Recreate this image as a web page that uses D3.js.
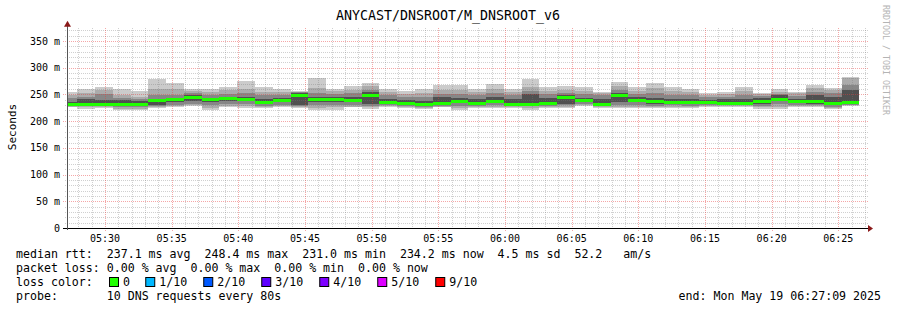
<!DOCTYPE html>
<html lang="en">
<head>
<meta charset="UTF-8">
<title>ANYCAST/DNSROOT/M_DNSROOT_v6</title>
<script src="https://d3js.org/d3.v7.min.js"></script>
<style>
  body { margin: 0; background: #fff; }
  text { font-family: "DejaVu Sans Mono", monospace; fill: #000; }
</style>
</head>
<body>
<div id="chart"></div>
<script>
const chartTitle = "ANYCAST/DNSROOT/M_DNSROOT_v6";
const startTime = Date.UTC(2025, 4, 19, 5, 27, 9);
const endTime = Date.UTC(2025, 4, 19, 6, 27, 9);
const firstStepEnd = Date.UTC(2025, 4, 19, 5, 27, 55);
const stepSec = 80;

// smoke: sorted ping rtts per 80s step (ms), outer pair first
const pingMax = [254,260,264,260,256,279,271,261,261,264,275,264,261,256,280,261,266,272,261,256,261,268,268,261,270,261,279,264,266,263,255,273,263,272,264,261,253,255,263,253,261,255,268,262,283];
const ping9   = [249,252,258,249,246,261,261,256,254,258,260,254,254,255,262,256,259,266,255,250,252,258,258,254,260,254,264,256,258,256,252,266,256,262,256,254,249,250,256,250,255,252,262,258,281];
const ping8   = [243,245,250,243,242,249,249,252,248,250,252,248,248,254,252,250,252,258,248,245,245,250,250,248,252,248,256,250,252,250,248,258,250,252,249,248,245,246,249,247,250,247,255,252,268];
const ping7   = [236,241,240,239,238,242,244,248,244,246,245,241,243,253,245,245,245,254,241,240,238,245,244,241,245,241,250,244,248,244,242,253,245,244,242,241,240,241,242,244,248,242,248,246,258];
const median  = [231.5,233,233,233,233,240,241,246,241,243,241,236,239,249,241,241,240,249,236,234,232,233.5,238.6,233.4,238.6,233,233,234.3,245.5,239.6,233,248.5,240,238.6,236,235,235,234.5,234.5,238.6,242,237.7,238,233.4,236];
const ping4   = [229,231,231,230,230,231,236,238,236,238,237,232,235,231,236,236,236,232,233,231,229,231,234,231,235,231,231,231,233,235,231,235,236,232,233,232,232,232,232,232,237,234,233,230,233];
const ping3   = [228,229,229,227,227,229,231,233,230,232,232,229,231,229,230,231,231,229,230,228,227,229,229,229,231,229,228,229,230,232,228,230,231,229,230,229,230,230,230,229,232,231,230,227,231];
const ping2   = [227,226,227,223,223,226,228,230,225,228,228,227,228,227,224,226,227,226,228,226,224,227,224,227,227,226,224,227,227,230,226,227,227,226,227,227,228,228,228,226,227,229,228,224,230];
const pingMin = [226,223,225,220,220,224,226,228,220,226,224,225,226,224,220,221,226,223,226,224,222,226,221,225,225,224,220,225,225,229,224,225,225,224,225,225,227,227,227,223,223,227,226,222,229];

const yTicks = [0, 50, 100, 150, 200, 250, 300, 350];
const yTickLabels = ["0", "50 m", "100 m", "150 m", "200 m", "250 m", "300 m", "350 m"];

const statLines = [
  "median rtt:  237.1 ms avg  248.4 ms max  231.0 ms min  234.2 ms now  4.5 ms sd  52.2   am/s",
  "packet loss: 0.00 % avg  0.00 % max  0.00 % min  0.00 % now"
];
const lossLabels = ["0", "1/10", "2/10", "3/10", "4/10", "5/10", "9/10"];
const lossColors = ["#20ff00", "#00b8ff", "#0059ff", "#5e00ff", "#7e00ff", "#dd00ff", "#ff0000"];
const probeText = "probe:       10 DNS requests every 80s";
const endText = "end: Mon May 19 06:27:09 2025";

const W = 897, H = 310;
const left = 67, right = 867, bottom = 228;

const svg = d3.select("#chart").append("svg")
  .attr("width", W).attr("height", H)
  .style("display", "block");

svg.append("rect").attr("width", W).attr("height", H).attr("fill", "#fff");

const x = d3.scaleUtc().domain([startTime, endTime]).range([left, right]);
const y = d3.scaleLinear().domain([0, 350]).range([bottom, 41]);
const plotTop = y(375);

//clip for the smoke
svg.append("clipPath").attr("id", "plotclip")
  .append("rect").attr("x", left).attr("y", plotTop).attr("width", right - left).attr("height", bottom - plotTop);

const steps = median.map((m, i) => {
  const end = firstStepEnd + i * stepSec * 1000;
  return { i, start: end - stepSec * 1000, end };
});

const smoke = svg.append("g").attr("clip-path", "url(#plotclip)").attr("shape-rendering", "crispEdges");
const bands = [
  { hi: pingMax, lo: pingMin, color: "#cbcbcb" },
  { hi: ping9, lo: ping2, color: "#ababab" },
  { hi: ping8, lo: ping3, color: "#878787" },
  { hi: ping7, lo: ping4, color: "#505050" }
];
bands.forEach(b => {
  smoke.selectAll(null)
    .data(steps)
    .enter().append("rect")
    .attr("x", d => Math.round(x(d.start)))
    .attr("width", d => Math.round(x(d.end)) - Math.round(x(d.start)))
    .attr("y", d => Math.round(y(b.hi[d.i])))
    .attr("height", d => Math.round(y(b.lo[d.i])) - Math.round(y(b.hi[d.i])))
    .attr("fill", b.color);
});

//grid, semi transparent over the smoke
const grid = svg.append("g").attr("shape-rendering", "crispEdges");
d3.range(10, 380, 10).forEach(v => {
  const major = v % 50 === 0;
  grid.append("line")
    .attr("x1", major ? left - 4 : left - 2).attr("x2", right + 2)
    .attr("y1", Math.round(y(v)) + 0.5).attr("y2", Math.round(y(v)) + 0.5)
    .attr("stroke", major ? "rgba(230,60,60,0.45)" : "rgba(120,120,120,0.35)")
    .attr("stroke-dasharray", "1,1");
});
const minuteTicks = x.ticks(d3.utcMinute.every(1));
minuteTicks.forEach(t => {
  const major = t.getUTCMinutes() % 5 === 0;
  grid.append("line")
    .attr("x1", Math.round(x(t)) + 0.5).attr("x2", Math.round(x(t)) + 0.5)
    .attr("y1", plotTop).attr("y2", bottom + (major ? 3 : 1))
    .attr("stroke", major ? "rgba(230,60,60,0.45)" : "rgba(120,120,120,0.35)")
    .attr("stroke-dasharray", "1,1");
});

//median line, green = no loss
svg.append("g").attr("clip-path", "url(#plotclip)").attr("shape-rendering", "crispEdges")
  .selectAll("rect")
  .data(steps)
  .enter().append("rect")
  .attr("x", d => Math.round(x(d.start)))
  .attr("width", d => Math.round(x(d.end)) - Math.round(x(d.start)))
  .attr("y", d => Math.round(y(median[d.i])) - 1.5)
  .attr("height", 3)
  .attr("fill", lossColors[0]);

//axes
const axes = svg.append("g").attr("shape-rendering", "crispEdges");
axes.append("line").attr("x1", left - 4).attr("x2", right + 2)
  .attr("y1", bottom + 0.5).attr("y2", bottom + 0.5).attr("stroke", "#000");
axes.append("line").attr("x1", left + 0.5).attr("x2", left + 0.5)
  .attr("y1", bottom + 2).attr("y2", 24).attr("stroke", "#555");
svg.append("path").attr("d", `M${right + 1},${bottom - 3} L${right + 6},${bottom + 0.5} L${right + 1},${bottom + 4} Z`)
  .attr("fill", "#8b1a1a");
svg.append("path").attr("d", `M${left - 3},${plotTop - 1} L${left + 0.5},${plotTop - 7} L${left + 4},${plotTop - 1} Z`)
  .attr("fill", "#8b1a1a");

svg.selectAll(".ylab")
  .data(yTicks)
  .enter().append("text")
  .attr("class", "ylab")
  .attr("x", 60)
  .attr("y", d => y(d))
  .attr("dy", "0.35em")
  .attr("text-anchor", "end")
  .style("font-size", "10px")
  .text((d, i) => yTickLabels[i]);

const fmt = d3.utcFormat("%H:%M");
svg.selectAll(".xlab")
  .data(x.ticks(d3.utcMinute.every(5)))
  .enter().append("text")
  .attr("class", "xlab")
  .attr("x", d => x(d))
  .attr("y", 238)
  .attr("dy", "0.35em")
  .attr("text-anchor", "middle")
  .style("font-size", "10px")
  .text(d => fmt(d));

svg.append("text")
  .attr("x", 448).attr("y", 20)
  .attr("text-anchor", "middle")
  .style("font-size", "13.3px")
  .text(chartTitle);

svg.append("text")
  .attr("transform", "translate(12,127) rotate(-90)")
  .attr("text-anchor", "middle")
  .attr("dy", "0.35em")
  .style("font-size", "11px")
  .text("Seconds");

svg.append("text")
  .attr("transform", "translate(886,5) rotate(90)")
  .attr("dy", "0.35em")
  .style("font-size", "8.3px")
  .style("fill", "#b4b4b4")
  .text("RRDTOOL / TOBI OETIKER");

//legend
const legendY = [254, 268, 282, 296];
statLines.forEach((s, i) => {
  svg.append("text")
    .attr("x", 16).attr("y", legendY[i]).attr("dy", "0.35em")
    .attr("xml:space", "preserve")
    .style("font-size", "11.6px")
    .text(s);
});
svg.append("text")
  .attr("x", 16).attr("y", legendY[2]).attr("dy", "0.35em")
  .style("font-size", "11.6px")
  .text("loss color:");
let cursor = 107;
lossLabels.forEach((lab, i) => {
  svg.append("rect")
    .attr("x", cursor + 2.5).attr("y", legendY[2] - 4.5)
    .attr("width", 9).attr("height", 9)
    .attr("fill", lossColors[i]).attr("stroke", "#000").attr("stroke-width", 1);
  svg.append("text")
    .attr("x", cursor + 16).attr("y", legendY[2]).attr("dy", "0.35em")
    .style("font-size", "11.6px")
    .text(lab);
  cursor += (4 + lab.length) * 7.25;
});
svg.append("text")
  .attr("x", 16).attr("y", legendY[3]).attr("dy", "0.35em")
  .attr("xml:space", "preserve")
  .style("font-size", "11.6px")
  .text(probeText);
svg.append("text")
  .attr("x", 881).attr("y", legendY[3]).attr("dy", "0.35em")
  .attr("text-anchor", "end")
  .style("font-size", "11.6px")
  .text(endText);
</script>
</body>
</html>
